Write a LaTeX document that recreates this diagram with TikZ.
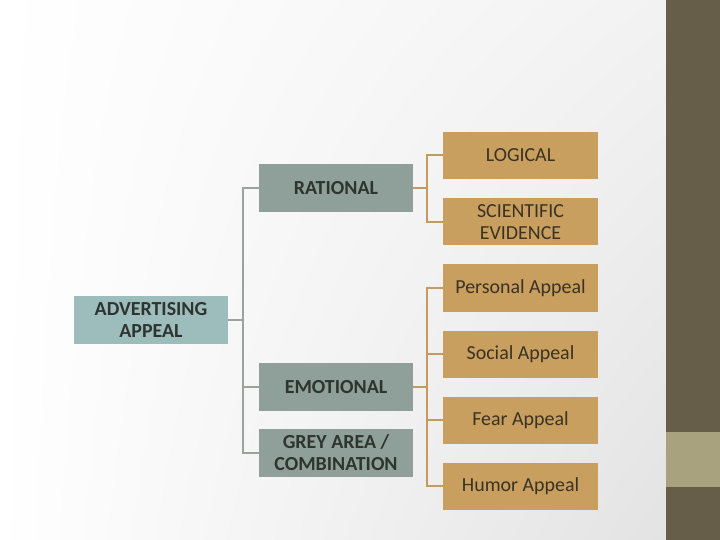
\documentclass[tikz,border=0pt]{standalone}
\usepackage{fontspec}
\setmainfont{Carlito}
\usetikzlibrary{shadings}
\definecolor{barDark}{HTML}{665E48}
\definecolor{barLight}{HTML}{A8A37E}
\definecolor{headFill}{HTML}{9DBDBD}
\definecolor{midFill}{HTML}{8FA09A}
\definecolor{leafFill}{HTML}{C89F5E}
\definecolor{midLine}{HTML}{9AA39E}
\definecolor{leafLine}{HTML}{C49A5E}
\definecolor{darkText}{HTML}{2E3430}
\definecolor{leafText}{HTML}{3A3224}

\tikzset{boite/.style = {minimum width = 154bp, minimum height = 48bp,
                         inner sep = 0pt, align = center,
                         font = \fontsize{20}{22}\selectfont},
         tete/.style  = {boite, fill = headFill, text = darkText, font = \fontsize{20}{22}\selectfont\bfseries},
         milieu/.style = {boite, fill = midFill, text = darkText, font = \fontsize{20}{22}\selectfont\bfseries},
         feuille/.style = {boite, minimum width = 155bp, minimum height = 47bp, fill = leafFill, text = leafText},
         lien/.style = {line width = 2bp, #1},
         lien/.default = midLine
        }

\begin{document}
\begin{tikzpicture}[x=1bp, y=-1bp]
  \useasboundingbox (0,0) rectangle (720,540);
  % fond et barre de droite
  \shade[upper left = white, lower left = white, upper right = black!5, lower right = black!11]
        (0,0) rectangle (666,540);
  \fill[barDark] (666,0) rectangle (720,540);
  \fill[barLight] (666,432) rectangle (720,487);

  \node[tete] (advert) at (151,320) {ADVERTISING\\APPEAL};

  \node[milieu] (rational)  at (336,188.5) {RATIONAL};
  \node[milieu] (emotional) at (336,387)   {EMOTIONAL};
  \node[milieu] (grey)      at (336,453)   {GREY AREA /\\COMBINATION};

  \node[feuille] (logical)    at (520.5,155.5) {LOGICAL};
  \node[feuille] (scientific) at (520.5,222)   {SCIENTIFIC\\EVIDENCE};
  \node[feuille] (personal)   at (520.5,288)   {Personal Appeal};
  \node[feuille] (social)     at (520.5,354)   {Social Appeal};
  \node[feuille] (fear)       at (520.5,420)   {Fear Appeal};
  \node[feuille] (humor)      at (520.5,486)   {Humor Appeal};

  \foreach \c in {rational, emotional, grey}
    \draw[lien] (advert.east) -- ++(15,0) |- (\c.west);
  \foreach \c in {logical, scientific}
    \draw[lien = leafLine] (rational.east) -- ++(14,0) |- (\c.west);
  \foreach \c in {personal, social, fear, humor}
    \draw[lien = leafLine] (emotional.east) -- ++(14,0) |- (\c.west);
\end{tikzpicture}
\end{document}
